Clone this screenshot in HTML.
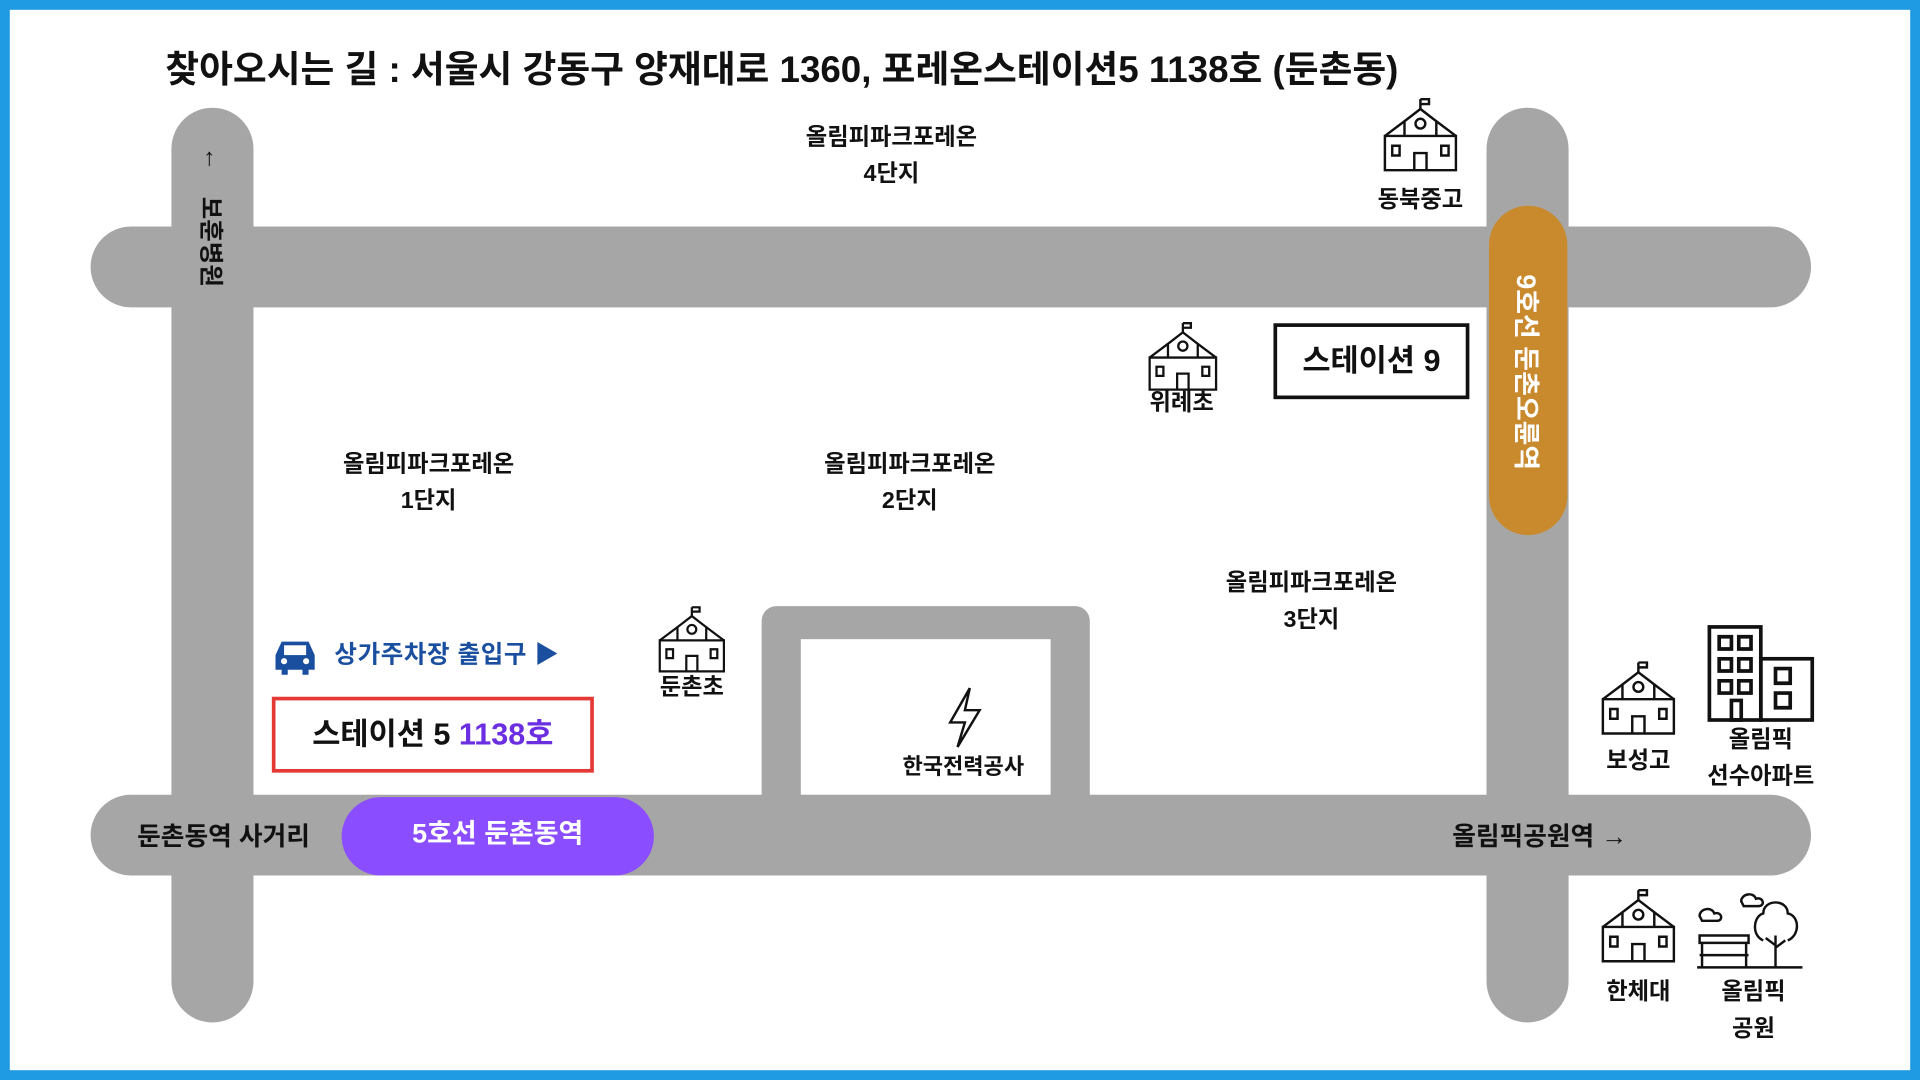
<!DOCTYPE html>
<html><head><meta charset="utf-8"><style>
html,body{margin:0;padding:0;width:1920px;height:1080px;overflow:hidden;background:#fff}
#w{position:absolute;left:0;top:0;width:1568px;height:882px;transform:scale(1.22449);transform-origin:0 0;font-family:"Liberation Sans","Noto Sans CJK KR",sans-serif;font-weight:bold;color:#111}
.a{position:absolute}
.r{position:absolute;background:#a6a6a6}
.t{position:absolute;text-align:center;font-size:19px;line-height:30px}
</style></head><body><div id="w">
<div class="a" style="left:0;top:0;width:1552px;height:866px;border:8px solid #1e9be3"></div>
<div class="a" style="left:135px;top:32px;font-size:30px;white-space:nowrap">찾아오시는 길 : 서울시 강동구 양재대로 1360, 포레온스테이션5 1138호 (둔촌동)</div>
<div class="r" style="left:140px;top:88px;width:67px;height:747px;border-radius:34px"></div>
<div class="r" style="left:1214px;top:88px;width:67px;height:747px;border-radius:34px"></div>
<div class="r" style="left:74px;top:185px;width:1405px;height:66px;border-radius:33px"></div>
<div class="r" style="left:74px;top:649px;width:1405px;height:66px;border-radius:33px"></div>
<div class="r" style="left:622px;top:495px;width:268px;height:220px;border-radius:12px 12px 0 0"></div>
<div class="a" style="left:654px;top:522px;width:204px;height:127px;background:#fff"></div>
<div class="a" style="left:1216px;top:168px;width:64px;height:269px;background:#c98a2e;border-radius:32px"></div>
<div class="a" style="left:1248px;top:302px;width:0;height:0"><div style="position:absolute;left:-100px;top:-14px;width:200px;text-align:center;transform:rotate(90deg);color:#fff;font-size:22px;white-space:nowrap">9호선 둔촌오륜역</div></div>
<div class="a" style="left:166px;top:118px;font-size:20px">↑</div>
<div class="a" style="left:174px;top:196px"><div style="position:absolute;left:-80px;top:-13px;width:160px;text-align:center;transform:rotate(90deg);font-size:20px;white-space:nowrap">보훈병원</div></div>
<div class="a" style="left:279px;top:651px;width:255px;height:64px;background:#8a4dff;border-radius:32px;color:#fff;font-size:22px;line-height:60px;text-align:center">5호선 둔촌동역</div>
<div class="a" style="left:112px;top:667px;font-size:21px">둔촌동역 사거리</div>
<div class="a" style="left:1186px;top:667px;font-size:21px">올림픽공원역 →</div>
<div class="a" style="left:1040px;top:264px;width:154px;height:56px;border:3px solid #111;font-size:25px;line-height:56px;text-align:center">스테이션 9</div>
<div class="a" style="left:222px;top:569px;width:257px;height:56px;border:3px solid #e53935;font-size:25px;line-height:56px;text-align:center">스테이션 5 <span style="color:#6b2ee0">1138호</span></div>
<div class="a" style="left:221px;top:518px;font-size:20px;color:#1a4fa0;white-space:nowrap;letter-spacing:0.5px"><svg width="40" height="34" viewBox="0 0 40 34" style="vertical-align:middle"><path d="M4 16 L9 5 H31 L36 16 V28 H31 V32 H26 V28 H14 V32 H9 V28 H4Z" fill="#1a4fa0"/><rect x="11" y="8" width="18" height="8" fill="#fff"/><circle cx="11" cy="21" r="2.5" fill="#fff"/><circle cx="29" cy="21" r="2.5" fill="#fff"/></svg> &nbsp;상가주차장 출입구 ▶</div>
<div class="t" style="left:250px;top:365px;width:200px">올림피파크포레온<br>1단지</div>
<div class="t" style="left:643px;top:365px;width:200px">올림피파크포레온<br>2단지</div>
<div class="t" style="left:971px;top:462px;width:200px">올림피파크포레온<br>3단지</div>
<div class="t" style="left:628px;top:98px;width:200px">올림피파크포레온<br>4단지</div>
<div class="t" style="left:1100px;top:149px;width:120px">동북중고</div>
<div class="t" style="left:905px;top:315px;width:120px">위례초</div>
<div class="t" style="left:505px;top:547px;width:120px">둔촌초</div>
<div class="t" style="left:1278px;top:607px;width:120px">보성고</div>
<div class="t" style="left:1378px;top:590px;width:120px">올림픽<br>선수아파트</div>
<div class="t" style="left:1278px;top:796px;width:120px">한체대</div>
<div class="t" style="left:1372px;top:796px;width:120px">올림픽<br>공원</div>
<div class="a" style="left:737px;top:612px;font-size:18px">한국전력공사</div>
<svg class="a" style="left:770px;top:560px" width="36" height="52" viewBox="0 0 36 52"><path d="M22 2 L6 30 H18 L12 50 L30 20 H18 Z" fill="none" stroke="#111" stroke-width="2"/></svg>
<svg width="0" height="0" style="position:absolute"><defs><g id="sc" fill="none" stroke="#111" stroke-width="2"><path d="M2 30 H60 V58 H2Z"/><path d="M18 30 V18 L31 8 L44 18 V30"/><path d="M31 8 V0 M31 0 H38 V4 H31"/><circle cx="31" cy="20" r="4"/><path d="M26 58 V44 H36 V58"/><path d="M8 38 H14 V46 H8Z M48 38 H54 V46 H48Z M2 30 L18 18 M60 30 L44 18"/></g></defs></svg>
<svg class="a" style="left:1128px;top:80px" width="64" height="62" viewBox="-1 -1 64 62"><use href="#sc"/></svg>
<svg class="a" style="left:935px;top:263px" width="62" height="58" viewBox="-1 -1 64 62"><use href="#sc"/></svg>
<svg class="a" style="left:535px;top:495px" width="60" height="56" viewBox="-1 -1 64 62"><use href="#sc"/></svg>
<svg class="a" style="left:1306px;top:540px" width="64" height="62" viewBox="-1 -1 64 62"><use href="#sc"/></svg>
<svg class="a" style="left:1306px;top:726px" width="64" height="62" viewBox="-1 -1 64 62"><use href="#sc"/></svg>
<svg class="a" style="left:1394px;top:510px" width="90" height="80" viewBox="0 0 90 80" fill="none" stroke="#111" stroke-width="3"><rect x="2" y="2" width="42" height="76"/><rect x="44" y="28" width="42" height="50"/><path d="M10 10h10v10H10zM26 10h10v10H26zM10 28h10v10H10zM26 28h10v10H26zM10 46h10v10H10zM26 46h10v10H26zM56 36h12v12H56zM56 56h12v12H56zM20 62h8v16h-8z"/></svg>
<svg class="a" style="left:1384px;top:724px" width="90" height="70" viewBox="0 0 90 70" fill="none" stroke="#111" stroke-width="2"><path d="M4 40 H44 V46 H4Z M6 46 V66 M42 46 V66 M4 56 H44 M2 66 H88"/><path d="M66 66 V40 M66 48 L58 42 M66 50 L74 44 M56 44 C46 40 48 24 56 22 C56 10 76 10 76 22 C86 24 86 40 76 44"/><path d="M4 24 C4 18 14 16 16 22 C22 20 24 28 18 28 H6Z M38 12 C38 6 48 4 50 10 C56 8 58 16 52 16 H40Z"/></svg>
</div></body></html>
